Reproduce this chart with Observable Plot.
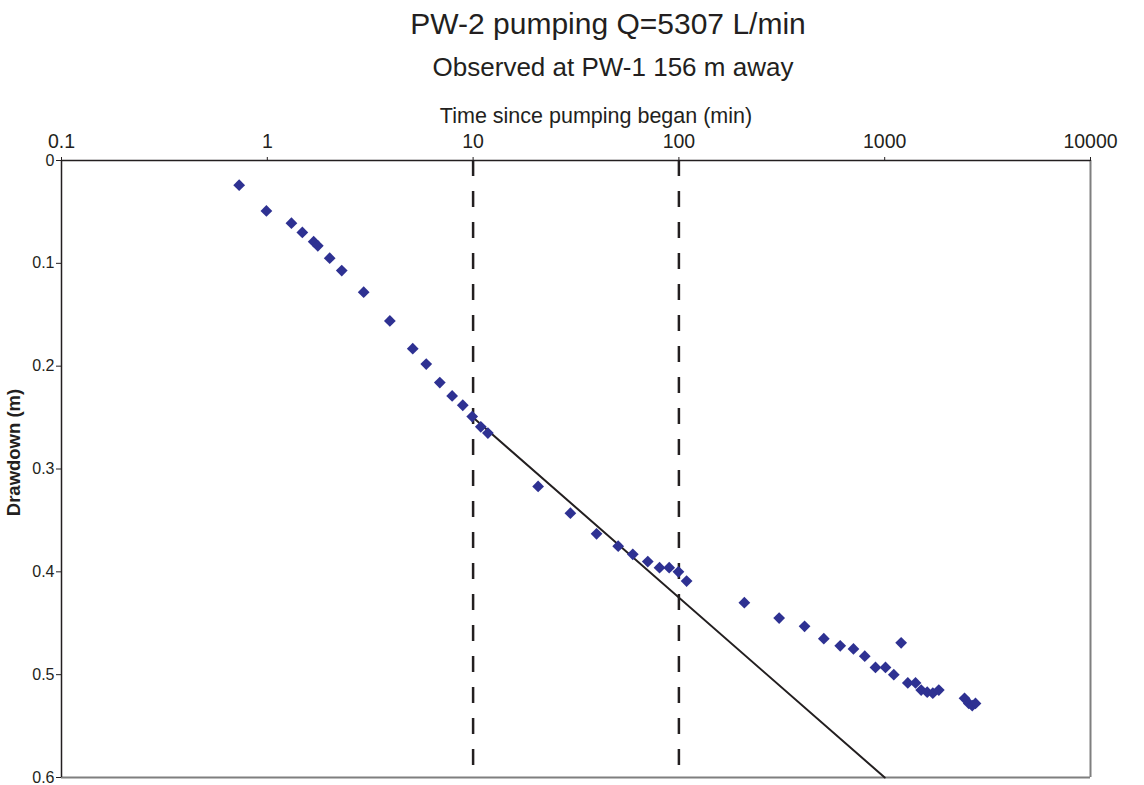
<!DOCTYPE html>
<html>
<head>
<meta charset="utf-8">
<script src="https://cdn.jsdelivr.net/npm/d3@7"></script>
<script src="https://cdn.jsdelivr.net/npm/@observablehq/plot@0.6"></script>
<style>
  body { margin: 0; background: #fff; font-family: "Liberation Sans", Arial, sans-serif; }
  #wrap { width: 1144px; }
  .head { width: 1144px; height: 90px; color: #231f20; }
  .t1 { box-sizing: border-box; width: 1144px; padding-left: 72px; padding-top: 2px; text-align: center; font-size: 30px; line-height: 44px; }
  .t2 { box-sizing: border-box; width: 1144px; padding-left: 82px; text-align: center; font-size: 26px; line-height: 42px; }
</style>
</head>
<body>
<div id="wrap">
  <div class="head">
    <div class="t1">PW-2 pumping Q=5307 L/min</div>
    <div class="t2">Observed at PW-1 156 m away</div>
  </div>
  <div id="chart"></div>
</div>
<script>
// Observation-well record: minutes since pumping began and drawdown (m)
const time = [
  0.73, 0.99, 1.31, 1.48, 1.68, 1.76, 2.01, 2.30, 2.94, 3.94,
  5.09, 5.92, 6.89, 7.91, 8.91, 9.90, 10.9, 11.8, 20.7, 29.7,
  39.8, 50.7, 59.7, 70.6, 80.5, 89.7, 99.5, 109, 208, 307,
  408, 506, 608, 705, 800, 902, 1009, 1107, 1202, 1295,
  1412, 1504, 1609, 1713, 1832, 2443, 2563, 2663, 2762
];
const drawdown = [
  0.024, 0.049, 0.061, 0.070, 0.079, 0.083, 0.095, 0.107, 0.128, 0.156,
  0.183, 0.198, 0.216, 0.229, 0.238, 0.249, 0.259, 0.265, 0.317, 0.343,
  0.363, 0.375, 0.383, 0.390, 0.396, 0.396, 0.400, 0.409, 0.430, 0.445,
  0.453, 0.465, 0.472, 0.475, 0.482, 0.493, 0.493, 0.500, 0.469, 0.508,
  0.508, 0.515, 0.517, 0.518, 0.515, 0.523, 0.528, 0.530, 0.528
];

// Straight-line (Cooper-Jacob) fit through the early-time data
const trendTime = [10, 1000];
const trendDrawdown = [0.25, 0.6];

// Vertical reference lines bracketing one log cycle
const markerTimes = [10, 100];

// Axis ticks and their labels
const xTicks = [0.1, 1, 10, 100, 1000, 10000];
const xTickLabels = ["0.1", "1", "10", "100", "1000", "10000"];
const yTicks = [0, 0.1, 0.2, 0.3, 0.4, 0.5, 0.6];
const yTickLabels = ["0", "0.1", "0.2", "0.3", "0.4", "0.5", "0.6"];

const xLabel = "Time since pumping began (min)";
const yLabel = "Drawdown (m)";

const points = time.map((t, i) => ({ t, d: drawdown[i] }));
const trend = trendTime.map((t, i) => ({ t, d: trendDrawdown[i] }));
const xFmt = new Map(xTicks.map((v, i) => [v, xTickLabels[i]]));
const yFmt = new Map(yTicks.map((v, i) => [v, yTickLabels[i]]));

const ink = "#231f20";

const chart = Plot.plot({
  width: 1144,
  height: 695,
  marginTop: 70,
  marginLeft: 61,
  marginRight: 54,
  marginBottom: 8,
  style: { fontFamily: '"Liberation Sans", Arial, sans-serif', background: "#fff", color: ink, overflow: "visible" },
  x: { type: "log", domain: [0.1, 10000] },
  y: { domain: [0, 0.6], reverse: true },
  marks: [
    Plot.ruleY([0.6], { stroke: "#7f7f7f", strokeWidth: 2 }),
    Plot.ruleX([10000], { stroke: "#7f7f7f", strokeWidth: 2 }),
    Plot.ruleY([0], { stroke: ink, strokeWidth: 1.5 }),
    Plot.ruleX([0.1], { stroke: ink, strokeWidth: 1.5 }),
    Plot.ruleX(markerTimes, { stroke: ink, strokeWidth: 2.5, strokeDasharray: "16,15" }),
    Plot.line(trend, { x: "t", y: "d", stroke: ink, strokeWidth: 2 }),
    Plot.dot(points, { x: "t", y: "d", symbol: "diamond2", r: 5.3, fill: "#2e3192", stroke: "none" }),
    Plot.axisX(xTicks, {
      anchor: "top", tickSize: 4, tickPadding: 9, fontSize: 19.5,
      tickFormat: d => xFmt.get(d), label: null, stroke: ink, fill: ink
    }),
    Plot.axisY(yTicks, {
      anchor: "left", tickSize: 5, tickPadding: 2, fontSize: 16,
      tickFormat: d => yFmt.get(d), label: null, stroke: ink, fill: ink
    }),
    Plot.text([xLabel], {
      text: d => d, frameAnchor: "top", lineAnchor: "middle", textAnchor: "middle",
      dx: 20, dy: -44, fontSize: 21.5, fill: ink
    }),
    Plot.text([yLabel], {
      text: d => d, frameAnchor: "left", lineAnchor: "middle", textAnchor: "middle",
      rotate: -90, dx: -47, dy: -16.5, fontSize: 18.5, fontWeight: "bold", fill: ink
    })
  ]
});
document.getElementById("chart").appendChild(chart);
</script>
</body>
</html>
